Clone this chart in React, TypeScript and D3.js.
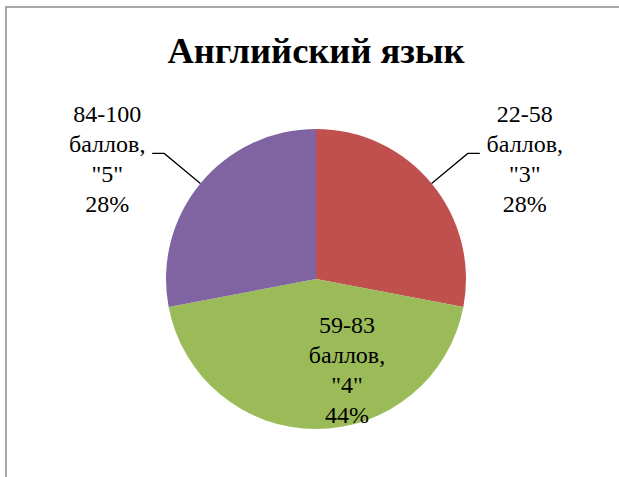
import React, { useEffect, useRef } from 'react';
import * as d3 from 'd3';

// Data
const TITLE = 'Английский язык';
const RANGES = ['22-58', '59-83', '84-100'];
const GRADES = ['"3"', '"4"', '"5"'];
const PERCENTS = [28, 44, 28];
const COLORS = ['#C0504D', '#9BBB59', '#8064A2'];

const W = 619;
const H = 477;
const CX = 316;
const CY = 279;
const R = 150;
const FONT = 'Liberation Serif';

export default function App() {
  const svgRef = useRef<SVGSVGElement>(null);

  useEffect(() => {
    if (!svgRef.current) return;
    const svg = d3.select(svgRef.current);
    svg.selectAll('*').remove();

    svg.append('rect').attr('width', W).attr('height', H).attr('fill', '#fff');

    // chart frame
    svg.append('rect')
      .attr('x', 6).attr('y', 7).attr('width', W + 10).attr('height', H + 10)
      .attr('fill', 'none').attr('stroke', '#8c8c8c').attr('stroke-width', 1.5);

    svg.append('text')
      .attr('x', CX).attr('y', 63)
      .attr('text-anchor', 'middle')
      .style('font-family', FONT).attr('font-weight', 'bold').attr('font-size', '36.5px')
      .attr('fill', '#000').text(TITLE);

    const data = PERCENTS.map((v, i) => ({ v, i }));
    const pie = d3.pie<{ v: number; i: number }>().value(d => d.v).sort(null);
    const arcs = pie(data);
    const arc = d3.arc<d3.PieArcDatum<{ v: number; i: number }>>().innerRadius(0).outerRadius(R);

    const g = svg.append('g').attr('transform', `translate(${CX},${CY})`);
    g.selectAll('path.slice')
      .data(arcs)
      .join('path')
      .attr('class', 'slice')
      .attr('d', arc)
      .attr('fill', d => COLORS[d.data.i]);

    const lineH = 30;
    const label = (x: number, y0: number, i: number) => {
      const t = g.append('text')
        .attr('text-anchor', 'middle')
        .style('font-family', FONT).attr('font-size', '24px').attr('fill', '#000');
      [RANGES[i], 'баллов,', GRADES[i], `${PERCENTS[i]}%`].forEach((s, li) => {
        t.append('tspan').attr('x', x).attr('y', y0 + li * lineH).text(s);
      });
    };

    arcs.forEach(d => {
      const mid = (d.startAngle + d.endAngle) / 2;
      const i = d.data.i;
      if (i === 1) {
        // inside label
        const [cx, cy] = arc.centroid(d);
        label(cx + 31, cy - 21, i);
        return;
      }
      const p0 = [Math.sin(mid) * R, -Math.cos(mid) * R];
      const p1 = [Math.sin(mid) * 197, -Math.cos(mid) * 197];
      const side = Math.sin(mid) > 0 ? 1 : -1;
      const p2 = [p1[0] + side * 12, p1[1]];
      g.append('path')
        .attr('d', d3.line()([p0 as [number, number], p1 as [number, number], p2 as [number, number]]))
        .attr('fill', 'none').attr('stroke', '#000').attr('stroke-width', 1.3);
      const lx = p2[0] + side * 45;
      label(lx, p1[1] - 31, i);
    });
  }, []);

  return (
    <svg
      ref={svgRef}
      width={W}
      height={H}
      style={{ position: 'absolute', left: 0, top: 0, display: 'block' }}
    />
  );
}
